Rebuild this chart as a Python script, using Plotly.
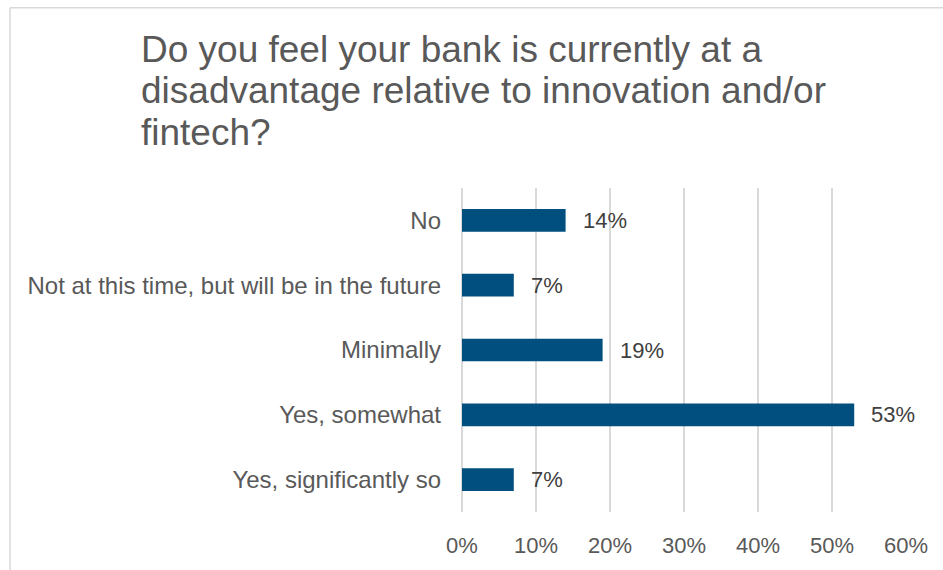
import plotly.graph_objects as go

# Survey answers (top to bottom) and share of respondents
categories = [
    "No",
    "Not at this time, but will be in the future",
    "Minimally",
    "Yes, somewhat",
    "Yes, significantly so",
]
shares = [0.14, 0.07, 0.19, 0.53, 0.07]
tick_values = [0, 0.1, 0.2, 0.3, 0.4, 0.5, 0.6]
title_lines = [
    "Do you feel your bank is currently at a",
    "disadvantage relative to innovation and/or",
    "fintech?",
]

W, H = 943, 570
L, R, T, B = 462, 37, 188, 55
pw, ph = W - L - R, H - T - B

FONT = "Liberation Sans, Arial, sans-serif"
BAR = "#004F7F"
GRID = "#D9D9D9"


def px_x(x):
    return (x - L) / pw


def px_y(y):
    return (H - B - y) / ph


fig = go.Figure(
    go.Bar(
        x=shares,
        y=categories,
        orientation="h",
        marker=dict(color=BAR, line=dict(width=0)),
        width=0.35,
        hoverinfo="skip",
    )
)

# value labels to the right of each bar
for cat, v in zip(categories, shares):
    fig.add_annotation(
        x=v, y=cat, xref="x", yref="y",
        text=f"{v:.0%}", showarrow=False,
        xanchor="left", yanchor="middle", xshift=15,
        font=dict(family=FONT, size=22, color="#404040"),
    )

# title, one annotation per line for tight line spacing
for i, line in enumerate(title_lines):
    fig.add_annotation(
        x=px_x(139), y=px_y(48 + 42 * i), xref="paper", yref="paper",
        text=line, showarrow=False,
        xanchor="left", yanchor="middle", align="left",
        font=dict(family=FONT, size=37, color="#595959"),
    )

# chart frame (top and left edges)
frame = dict(color=GRID, width=1.5)
fig.add_shape(type="line", xref="paper", yref="paper",
              x0=px_x(10), x1=px_x(W + 5), y0=px_y(6), y1=px_y(6), line=frame)
fig.add_shape(type="line", xref="paper", yref="paper",
              x0=px_x(10), x1=px_x(10), y0=px_y(6), y1=px_y(H + 5), line=frame)

fig.update_layout(
    width=W, height=H,
    margin=dict(l=L, r=R, t=T, b=B),
    paper_bgcolor="white", plot_bgcolor="white",
    showlegend=False,
    xaxis=dict(
        range=[0, 0.6],
        tickvals=tick_values,
        tickformat=".0%",
        showgrid=True, gridcolor=GRID, gridwidth=1.5,
        zeroline=True, zerolinecolor=GRID, zerolinewidth=1.5,
        showline=False, ticks="",
        ticklabelstandoff=18,
        tickfont=dict(family=FONT, size=22, color="#595959"),
        fixedrange=True,
    ),
    yaxis=dict(
        categoryorder="array",
        categoryarray=categories[::-1],
        showgrid=False, zeroline=False, showline=False, ticks="",
        ticklabelstandoff=20,
        tickfont=dict(family=FONT, size=24, color="#595959"),
        fixedrange=True,
    ),
)

fig.write_html("out.html")
